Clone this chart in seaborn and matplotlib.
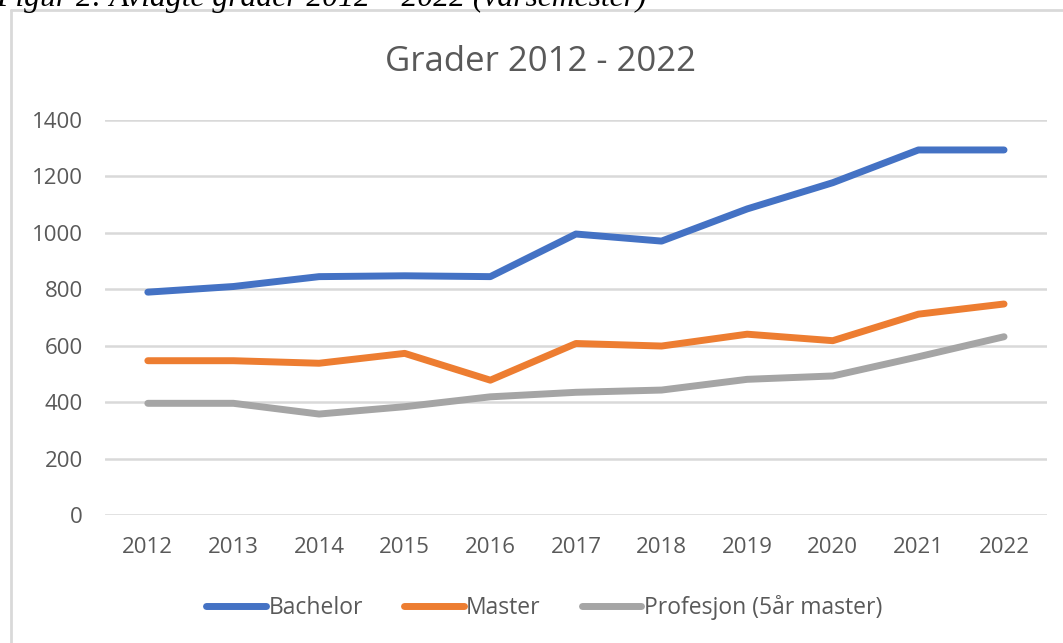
import pandas as pd
import numpy as np
import matplotlib.pyplot as plt
import seaborn as sns
from matplotlib.lines import Line2D

years = ['2012', '2013', '2014', '2015', '2016', '2017', '2018', '2019', '2020', '2021', '2022']
bachelor = [790, 810, 845, 848, 845, 996, 971, 1085, 1178, 1294, 1294]
master = [547, 547, 538, 573, 478, 608, 599, 641, 618, 712, 748]
profesjon = [396, 396, 358, 384, 419, 435, 443, 481, 493, 561, 632]
series = ['Bachelor', 'Master', 'Profesjon (5år master)']
colors = ['#4472C4', '#ED7D31', '#A5A5A5']

df = pd.DataFrame({'År': years * 3,
                   'Grader': bachelor + master + profesjon,
                   'Type': [s for s in series for _ in years]})

sns.set_style('white')
plt.rcParams['font.family'] = ['Open Sans', 'DejaVu Sans']

fig = plt.figure(figsize=(10.63, 6.43), dpi=100)
ax = fig.add_axes([0.0988, 0.199, 0.886, 0.6143])

sns.lineplot(data=df, x='År', y='Grader', hue='Type', palette=colors,
             linewidth=5, ax=ax, legend=False, sort=False)
for ln in ax.lines:
    ln.set_solid_capstyle('round')
    ln.set_solid_joinstyle('round')

ax.set_xlim(-0.5, len(years) - 0.5)
ax.set_ylim(0, 1400)
ax.set_yticks(range(0, 1401, 200))
ax.yaxis.grid(True, color='#D9D9D9', linewidth=1.8)
ax.set_axisbelow(True)
for s in ax.spines.values():
    s.set_visible(False)
ax.set_xlabel('')
ax.set_ylabel('')
ax.tick_params(axis='both', length=0, labelsize=16, colors='#595959')
ax.tick_params(axis='x', pad=16)
ax.tick_params(axis='y', pad=16)

fig.text(0.508, 0.903, 'Grader 2012 - 2022', ha='center', va='center',
         fontsize=25, color='#595959')

handles = [Line2D([0], [0], color=c, linewidth=5, solid_capstyle='round') for c in colors]
fig.legend(handles, series, loc='center', bbox_to_anchor=(0.512, 0.055), ncol=3,
           frameon=False, fontsize=16.5, labelcolor='#595959', handlelength=2.6,
           handletextpad=0.1, columnspacing=1.8)

# chart border and cropped caption
fig.add_artist(Line2D([0.0105, 0.0105], [0.984, 0.0], transform=fig.transFigure,
                      color='#D9D9D9', linewidth=2))
fig.add_artist(Line2D([0.0105, 1.0], [0.984, 0.984], transform=fig.transFigure,
                      color='#D9D9D9', linewidth=2))
fig.text(-0.004, 0.991, 'Figur 2: Avlagte grader 2012 – 2022 (vårsemester)',
         ha='left', va='baseline', fontsize=22.8, style='italic',
         family='Liberation Serif', color='#000000')

fig.savefig('out.png', dpi=100)
